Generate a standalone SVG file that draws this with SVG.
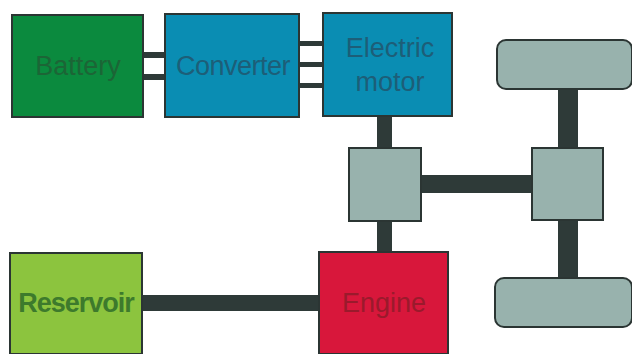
<svg xmlns="http://www.w3.org/2000/svg" width="632" height="354" viewBox="0 0 632 354">
<style>
.box{stroke:#2b3533;stroke-width:2}
.gray{fill:#98b2ad;stroke:#2b3533;stroke-width:2}
.lbl{font-family:"Liberation Sans",Arial,sans-serif;font-size:27px;text-anchor:middle}
.link{fill:#2e3a38}
</style>
<rect width="632" height="354" fill="#ffffff"/>
<g id="connectors">
<rect class="link" x="142" y="52" width="24" height="6"/>
<rect class="link" x="142" y="74" width="24" height="6"/>
<rect class="link" x="298" y="41" width="26" height="5"/>
<rect class="link" x="298" y="62" width="26" height="5"/>
<rect class="link" x="298" y="83" width="26" height="5"/>
<rect class="link" x="377" y="116" width="15" height="33"/>
<rect class="link" x="377" y="220" width="15" height="33"/>
<rect class="link" x="420" y="175" width="113" height="18"/>
<rect class="link" x="558" y="88" width="20" height="61"/>
<rect class="link" x="558" y="219" width="20" height="60"/>
<rect class="link" x="141" y="295" width="179" height="16"/>
</g>
<g id="battery">
<rect class="box" x="12" y="15" width="131" height="102" fill="#0b8a3e"/>
<text class="lbl" x="78" y="75" fill="#1c6536">Battery</text>
</g>
<g id="converter">
<rect class="box" x="165" y="14" width="134" height="103" fill="#0a8db3"/>
<text class="lbl" x="233" y="75" fill="#1d5e78" letter-spacing="-0.5">Converter</text>
</g>
<g id="electric-motor">
<rect class="box" x="323" y="13" width="129" height="103" fill="#0a8db3"/>
<text class="lbl" x="390" y="57" fill="#1d5e78">Electric</text>
<text class="lbl" x="390" y="91" fill="#1d5e78">motor</text>
</g>
<g id="wheel-top">
<rect class="gray" x="497" y="40" width="135" height="49" rx="9"/>
</g>
<g id="gearbox-left">
<rect class="gray" x="349" y="148" width="72" height="73"/>
</g>
<g id="gearbox-right">
<rect class="gray" x="532" y="148" width="71" height="72"/>
</g>
<g id="wheel-bottom">
<rect class="gray" x="495" y="278" width="137" height="49" rx="9"/>
</g>
<g id="engine">
<rect class="box" x="319" y="252" width="129" height="102" fill="#d8173b"/>
<text class="lbl" x="384" y="312" fill="#9a1a2c">Engine</text>
</g>
<g id="reservoir">
<rect class="box" x="10" y="253" width="132" height="101" fill="#8cc43e"/>
<text class="lbl" x="76" y="312" fill="#3d7a2c" font-weight="bold" font-size="26" letter-spacing="-1">Reservoir</text>
</g>
</svg>
